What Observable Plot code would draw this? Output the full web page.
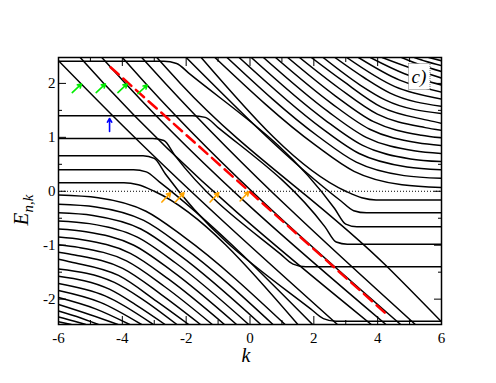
<!DOCTYPE html>
<html><head><meta charset="utf-8">
<script src="https://cdn.jsdelivr.net/npm/d3@7"></script>
<script src="https://cdn.jsdelivr.net/npm/@observablehq/plot@0.6"></script>
<style>body{margin:0;background:#fff} svg text{font-family:"Liberation Serif",serif !important}</style>
</head><body><div id="chart"></div>
<script>
const xTicks = [-6,-4,-2,0,2,4,6];
const xMinor = [-5,-3,-1,1,3,5];
const yTicks = [-2,-1,0,1,2];
const yMinor = [-1.5,-0.5,0.5,1.5];

// lower-left family: flat at the left edge, bending down into diagonals (k,E pairs)
const lowerLeft = [
 [-6,-0.07, -4.76,-0.12, -3.26,-0.37, -2.06,-0.85, 1.1,-2.47],
 [-6,-0.24, -4.83,-0.29, -3.33,-0.54, -2.13,-1.02, 0.72,-2.47],
 [-6,-0.40, -4.92,-0.45, -3.42,-0.70, -2.22,-1.18, 0.34,-2.47],
 [-6,-0.55, -5.03,-0.60, -3.53,-0.85, -2.33,-1.33, -0.04,-2.47],
 [-6,-0.70, -5.14,-0.75, -3.64,-1.00, -2.44,-1.48, -0.42,-2.47],
 [-6,-0.85, -5.25,-0.90, -3.75,-1.15, -2.55,-1.63, -0.8,-2.47],
 [-6,-0.99, -5.37,-1.04, -3.87,-1.29, -2.67,-1.77, -1.18,-2.47],
 [-6,-1.13, -5.49,-1.18, -3.99,-1.43, -2.79,-1.91, -1.55,-2.47],
 [-6,-1.26, -5.62,-1.31, -4.12,-1.56, -2.92,-2.04, -1.92,-2.47],
 [-6,-1.44, -4.25,-1.69, -3.45,-1.97, -2.29,-2.47],
 [-6,-1.575, -4.39,-1.82, -3.59,-2.10, -2.66,-2.47],
 [-6,-1.71, -4.54,-1.94, -3.03,-2.47],
 [-6,-1.84, -4.69,-2.06, -3.4,-2.47],
 [-6,-1.97, -4.84,-2.18, -3.77,-2.47],
 [-6,-2.10, -5.01,-2.29, -4.14,-2.47],
 [-6,-2.22, -5.3,-2.35, -4.75,-2.47],
 [-6,-2.33, -5.5,-2.41, -5.15,-2.47],
 [-6,-2.42, -5.6,-2.47]
];
// central family: diagonals that cross E = 0, with flat levels at the left and right
const central = [
 [-6,0.16, -3.95,0.16, -3.5,0.12, -3.0,0.0, 1.5,-2.47],
 [-6,0.40, -3.65,0.40, -3.25,0.36, -2.85,0.18, 1.96,-2.47],
 [-6,0.66, -3.35,0.66, -3.0,0.61, -2.65,0.32, 1.9,-2.18, 2.3,-2.36, 2.7,-2.41, 6,-2.41],
 [-6,2.42, -4.3,1.40, 2.74,-2.47],
 [-6,0.98, -3.05,0.98, -2.7,0.94, -2.35,0.66, 0.95,-1.16, 1.35,-1.35, 1.75,-1.40, 6,-1.40],
 [-5.32,2.48, -4.58,2.0, 3.8,-2.47],
 [-4.64,2.48, -3.9,2.0, 4.26,-2.47],
 [-4.0,2.48, -3.27,2.0, 4.72,-2.47],
 [-3.39,2.48, -2.65,2.0, 5.18,-2.47],
 [-6,1.40, -1.8,1.40, -1.4,1.37, -1.0,1.18, 2.35,-0.66, 2.7,-0.94, 3.05,-0.98, 6,-0.98],
 [-2.92,2.48, -2.18,2.0, 4.3,-1.40, 6,-2.42],
 [-6,2.41, -2.7,2.41, -2.3,2.37, -1.9,2.18, 2.65,-0.32, 3.0,-0.61, 3.35,-0.66, 6,-0.66],
 [-2.0,2.48, 2.85,-0.18, 3.25,-0.36, 3.65,-0.40, 6,-0.40],
 [-1.53,2.48, 3.0,0.0, 3.5,-0.12, 3.95,-0.16, 6,-0.16]
];
// upper-right family: diagonals from the top flattening towards the right edge
const upperRight = [
 [-1.1,2.48, 2.06,0.85, 3.26,0.37, 4.76,0.12, 6,0.07],
 [-0.72,2.48, 2.13,1.02, 3.33,0.54, 4.83,0.29, 6,0.24],
 [-0.34,2.48, 2.22,1.18, 3.42,0.70, 4.92,0.45, 6,0.40],
 [0.04,2.48, 2.33,1.33, 3.53,0.85, 5.03,0.60, 6,0.55],
 [0.42,2.48, 2.44,1.48, 3.64,1.00, 5.14,0.75, 6,0.70],
 [0.8,2.48, 2.55,1.63, 3.75,1.15, 5.25,0.90, 6,0.85],
 [1.18,2.48, 2.67,1.77, 3.87,1.29, 5.37,1.04, 6,0.99],
 [1.55,2.48, 2.79,1.91, 3.99,1.43, 5.49,1.18, 6,1.13],
 [1.92,2.48, 2.92,2.04, 4.12,1.56, 5.62,1.31, 6,1.26],
 [2.29,2.48, 3.45,1.97, 4.25,1.69, 6,1.44],
 [2.66,2.48, 3.59,2.10, 4.39,1.82, 6,1.575],
 [3.03,2.48, 4.54,1.94, 6,1.71],
 [3.4,2.48, 4.69,2.06, 6,1.84],
 [3.77,2.48, 4.84,2.18, 6,1.97],
 [4.14,2.48, 5.01,2.29, 6,2.10],
 [4.75,2.48, 5.3,2.35, 6,2.22],
 [5.15,2.48, 5.5,2.41, 6,2.33],
 [5.6,2.48, 6,2.42]
];

const redK = [-4.37, 4.30];
const redE = [2.30, -2.29];
const greenTipK = [-5.28,-4.53,-3.85,-3.22];
const greenTipE = [1.99,1.99,1.99,1.97];
const orangeTipK = [-2.49,-2.07,-0.98,-0.04];
const orangeTipE = [-0.03,-0.03,-0.03,-0.01];
const blueTipK = [-4.40], blueTipE = [1.35], blueTailE = [1.11];

const allCurves = [...lowerLeft, ...central, ...upperRight];
const rows = allCurves.flatMap((c,i)=>{const r=[];for(let j=0;j<c.length;j+=2)r.push({id:i,k:c[j],E:c[j+1]});return r;});
const redRows = redK.map((k,i)=>({k,E:redE[i]}));
const green = greenTipK.map((k,i)=>({x2:k,y2:greenTipE[i],x1:k-0.29,y1:greenTipE[i]-0.16}));
const orange = orangeTipK.map((k,i)=>({x2:k,y2:orangeTipE[i],x1:k-0.27,y1:orangeTipE[i]-0.17}));
const blue = blueTipK.map((k,i)=>({x1:k,y1:blueTailE[i],x2:k,y2:blueTipE[i]}));

const fmt = d=>String(d);
const plot = Plot.plot({
  width:496, height:383, marginLeft:58, marginRight:55, marginTop:57, marginBottom:59,
  x:{domain:[-6,6]}, y:{domain:[-2.47,2.48]},
  style:{fontFamily:"Liberation Serif", fontSize:"15px", background:"white"},
  marks:[
    Plot.line(rows,{x:"k",y:"E",z:"id",stroke:"black",strokeWidth:1.5,curve:"monotone-x",clip:true}),
    Plot.ruleY([0],{stroke:"black",strokeWidth:1,strokeDasharray:"1,2"}),
    Plot.line(redRows,{x:"k",y:"E",stroke:"red",strokeWidth:2.5,strokeDasharray:"11,6"}),
    Plot.arrow(green,{x1:"x1",y1:"y1",x2:"x2",y2:"y2",stroke:"#00ee00",strokeWidth:1.6,headLength:6}),
    Plot.arrow(orange,{x1:"x1",y1:"y1",x2:"x2",y2:"y2",stroke:"orange",strokeWidth:1.6,headLength:6}),
    Plot.arrow(blue,{x1:"x1",y1:"y1",x2:"x2",y2:"y2",stroke:"blue",strokeWidth:1.6,headLength:6}),
    Plot.frame({stroke:"black",strokeWidth:1.5}),
    Plot.axisX(xTicks,{anchor:"bottom",tickSize:-8,text:null,label:null}),
    Plot.axisX(xTicks,{anchor:"top",tickSize:-8,text:null,label:null}),
    Plot.axisX(xMinor,{anchor:"bottom",tickSize:-4,text:null,label:null}),
    Plot.axisX(xMinor,{anchor:"top",tickSize:-4,text:null,label:null}),
    Plot.axisY(yTicks,{anchor:"left",tickSize:-8,text:null,label:null}),
    Plot.axisY(yTicks,{anchor:"right",tickSize:-8,text:null,label:null}),
    Plot.axisY(yMinor,{anchor:"left",tickSize:-4,text:null,label:null}),
    Plot.axisY(yMinor,{anchor:"right",tickSize:-4,text:null,label:null}),
    Plot.axisX(xTicks,{anchor:"bottom",tickSize:0,tickPadding:8,tickFormat:fmt,label:null,fontSize:15}),
    Plot.axisY(yTicks,{anchor:"left",tickSize:0,tickPadding:3,tickFormat:fmt,label:null,fontSize:15})
  ]
});
document.getElementById("chart").appendChild(plot);
const svg = d3.select(plot);
const yl = svg.append("text").attr("transform","translate(28,210) rotate(-90)")
  .attr("font-style","italic");
yl.append("tspan").attr("font-size",21).text("E");
yl.append("tspan").attr("font-size",15).attr("dy",5).text("n,k");
svg.append("text").attr("x",246).attr("y",362).attr("text-anchor","middle")
  .attr("font-style","italic").attr("font-size",20).text("k");
svg.append("rect").attr("x",408.5).attr("y",63.5).attr("width",21.5).attr("height",26)
  .attr("fill","white").attr("stroke","#555").attr("stroke-width",0.8).attr("stroke-dasharray","1,1");
svg.append("text").attr("x",419).attr("y",83).attr("text-anchor","middle")
  .attr("font-style","italic").attr("font-size",19).text("c)");
</script></body></html>
